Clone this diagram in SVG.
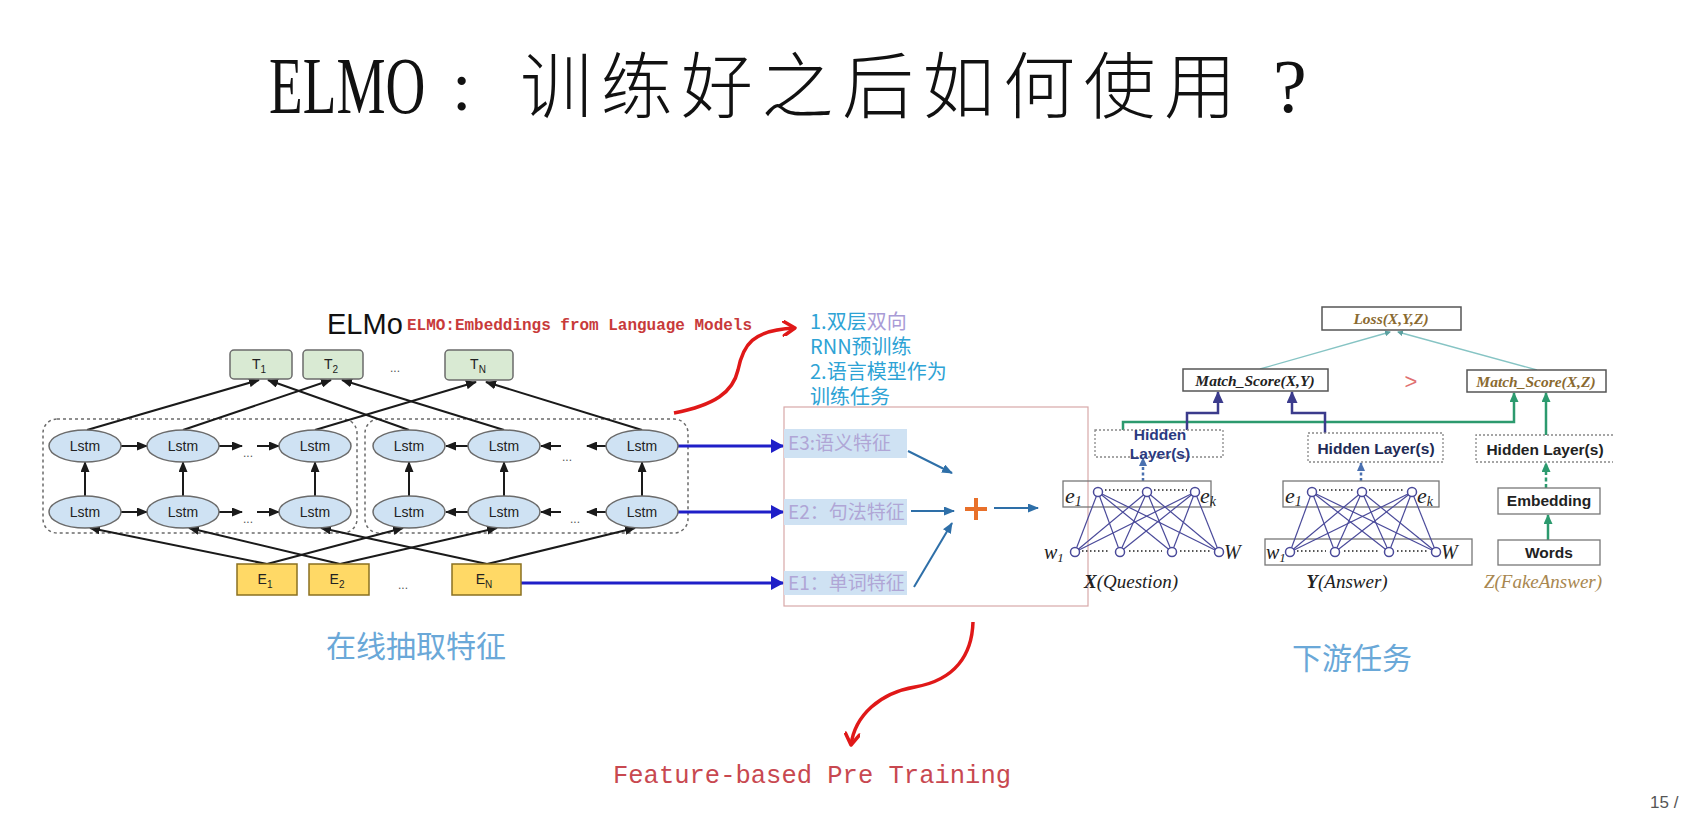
<svg xmlns="http://www.w3.org/2000/svg" width="1688" height="817" viewBox="0 0 1688 817">
<defs>
<style>
.sans{font-family:"Liberation Sans",Arial,sans-serif}
.cjk{font-family:"Noto Sans CJK SC","Noto Sans",sans-serif}
.ser{font-family:"Liberation Serif","Times New Roman",serif}
.mono{font-family:"Liberation Mono","Courier New",monospace}
.tbox{fill:#d9ead3;stroke:#6b6b6b;stroke-width:1.5}
.ebox{fill:#ffd966;stroke:#8a7020;stroke-width:1.5}
.lstm{fill:#cfe2f3;stroke:#6b6b6b;stroke-width:1.5}
.lbl{font-family:"Liberation Sans",Arial,sans-serif;font-size:14px;fill:#222;text-anchor:middle}
.blk{stroke:#1a1a1a;stroke-width:2;fill:none;marker-end:url(#ab)}
.dots{font-family:"Liberation Sans",Arial,sans-serif;font-size:12px;fill:#555;text-anchor:middle}
.grp{fill:none;stroke:#6b6b6b;stroke-width:1.5;stroke-dasharray:3 3}
.blue{stroke:#1f1fc8;stroke-width:3;fill:none;marker-end:url(#abl)}
.steel{stroke:#2e6fa8;stroke-width:2;fill:none;marker-end:url(#ast)}
.fbox{fill:#cfe2f3}
.ftxt{font-family:"Noto Sans CJK SC",sans-serif;font-size:19px;fill:#b0a6d6}
.note{font-family:"Noto Sans CJK SC","Noto Sans",sans-serif;font-size:20px;fill:#2ea3d5}
.rbox{fill:#fff;stroke:#555;stroke-width:1.5}
.ms{font-family:"Liberation Serif",serif;font-style:italic;font-weight:bold;font-size:15.5px;text-anchor:middle}
.hid{font-family:"Liberation Sans",Arial,sans-serif;font-weight:bold;font-size:15.5px;text-anchor:middle}
.dbox{fill:none;stroke:#888;stroke-width:1.3;stroke-dasharray:2 2}
.navy{stroke:#3b3b8c;stroke-width:2.5;fill:none;marker-end:url(#anv)}
.grn{stroke:#2c9a6e;stroke-width:2.5;fill:none;marker-end:url(#agr)}
.teal{stroke:#86c4c4;stroke-width:1.3;fill:none;marker-end:url(#atl)}
.bp{stroke:#4a4a9a;stroke-width:1.2}
.cir{fill:#fff;stroke:#4a4a9a;stroke-width:1.5}
.dotl{stroke:#555;stroke-width:1.8;stroke-dasharray:1.5 2.5}
.it{font-family:"Liberation Serif",serif;font-style:italic}
.cap{font-family:"Noto Sans CJK SC",sans-serif;font-size:30px;fill:#6aa8d8}
</style>
<marker id="ab" markerUnits="userSpaceOnUse" markerWidth="11" markerHeight="9" refX="10" refY="4.5" orient="auto"><path d="M0,0 L11,4.5 L0,9 z" fill="#1a1a1a"/></marker>
<marker id="abl" markerUnits="userSpaceOnUse" markerWidth="13" markerHeight="14" refX="12" refY="7" orient="auto"><path d="M0,0 L13,7 L0,14 z" fill="#1f1fc8"/></marker>
<marker id="ast" markerUnits="userSpaceOnUse" markerWidth="11" markerHeight="9" refX="10" refY="4.5" orient="auto"><path d="M0,0 L11,4.5 L0,9 z" fill="#2e6fa8"/></marker>
<marker id="anv" markerUnits="userSpaceOnUse" markerWidth="12" markerHeight="11" refX="11" refY="5.5" orient="auto"><path d="M0,0 L12,5.5 L0,11 z" fill="#3b3b8c"/></marker>
<marker id="agr" markerUnits="userSpaceOnUse" markerWidth="10" markerHeight="9" refX="9" refY="4.5" orient="auto"><path d="M0,0 L10,4.5 L0,9 z" fill="#2c9a6e"/></marker>
<marker id="atl" markerUnits="userSpaceOnUse" markerWidth="6" markerHeight="6" refX="5" refY="3" orient="auto"><path d="M0,0 L6,3 L0,6 z" fill="#5aa0a0"/></marker>
<marker id="ablu" markerUnits="userSpaceOnUse" markerWidth="9" markerHeight="8" refX="8" refY="4" orient="auto"><path d="M0,0 L9,4 L0,8 z" fill="#4a70b0"/></marker>
<marker id="ared" markerUnits="userSpaceOnUse" markerWidth="16" markerHeight="16" refX="13" refY="8" orient="auto"><path d="M2,1 L13,8 L2,15" fill="none" stroke="#e01818" stroke-width="3.5" stroke-linecap="round" stroke-linejoin="round"/></marker>
</defs>
<rect width="1688" height="817" fill="#ffffff"/>

<g id="title" fill="#111">
<text transform="translate(269,113) scale(0.69,1)" class="ser" font-size="80">ELMO</text>
<text x="452" y="110" class="ser" font-size="70">:</text>
<text x="520" y="112" class="cjk" font-size="72" font-weight="300" letter-spacing="8.5">训练好之后如何使用</text>
<text x="1273" y="112" class="ser" font-size="76">?</text>
</g>

<g id="elmo-label">
<text x="327" y="334" class="sans" font-size="29" fill="#111">ELMo</text>
<text x="407" y="330" class="mono" font-size="16" font-weight="bold" fill="#c83a3a" textLength="345">ELMO:Embeddings from Language Models</text>
</g>

<g id="groups">
<rect x="43" y="419" width="314" height="114" rx="14" class="grp"/>
<rect x="365" y="419" width="323" height="114" rx="14" class="grp"/>
</g>

<g id="connectors">
<line x1="87" y1="430" x2="259" y2="380" class="blk"/>
<line x1="409" y1="430" x2="268" y2="380" class="blk"/>
<line x1="183" y1="430" x2="331" y2="380" class="blk"/>
<line x1="504" y1="430" x2="342" y2="380" class="blk"/>
<line x1="315" y1="430" x2="476" y2="382" class="blk"/>
<line x1="642" y1="430" x2="486" y2="382" class="blk"/>
<line x1="267" y1="564" x2="90" y2="528" class="blk"/>
<line x1="267" y1="564" x2="403" y2="528" class="blk"/>
<line x1="340" y1="564" x2="189" y2="528" class="blk"/>
<line x1="340" y1="564" x2="497" y2="528" class="blk"/>
<line x1="487" y1="564" x2="321" y2="528" class="blk"/>
<line x1="487" y1="564" x2="635" y2="528" class="blk"/>
<line x1="85" y1="496" x2="85" y2="462" class="blk"/>
<line x1="183" y1="496" x2="183" y2="462" class="blk"/>
<line x1="315" y1="496" x2="315" y2="462" class="blk"/>
<line x1="409" y1="496" x2="409" y2="462" class="blk"/>
<line x1="504" y1="496" x2="504" y2="462" class="blk"/>
<line x1="642" y1="496" x2="642" y2="462" class="blk"/>
<line x1="121" y1="446" x2="147" y2="446" class="blk"/>
<line x1="219" y1="446" x2="242" y2="446" class="blk"/>
<line x1="257" y1="446" x2="279" y2="446" class="blk"/>
<line x1="468" y1="446" x2="446" y2="446" class="blk"/>
<line x1="561" y1="446" x2="541" y2="446" class="blk"/>
<line x1="606" y1="446" x2="587" y2="446" class="blk"/>
<line x1="121" y1="512" x2="147" y2="512" class="blk"/>
<line x1="219" y1="512" x2="242" y2="512" class="blk"/>
<line x1="257" y1="512" x2="279" y2="512" class="blk"/>
<line x1="468" y1="512" x2="446" y2="512" class="blk"/>
<line x1="561" y1="512" x2="541" y2="512" class="blk"/>
<line x1="606" y1="512" x2="587" y2="512" class="blk"/>
<line x1="678" y1="446" x2="783" y2="446" class="blue"/>
<line x1="678" y1="512" x2="783" y2="512" class="blue"/>
<line x1="521" y1="583" x2="783" y2="583" class="blue"/>
<line x1="908" y1="451" x2="952" y2="473" class="steel"/>
<line x1="911" y1="511" x2="954" y2="511" class="steel"/>
<line x1="914" y1="587" x2="952" y2="523" class="steel"/>
<line x1="994" y1="508" x2="1038" y2="508" class="steel"/>
<path d="M674,413 C715,405 733,392 738,370 C743,345 752,330 795,328" fill="none" stroke="#e01818" stroke-width="3.5" marker-end="url(#ared)"/>
<path d="M973,622 C972,655 955,680 915,687 C880,693 855,715 851,745" fill="none" stroke="#e01818" stroke-width="3.5" marker-end="url(#ared)"/>
<line x1="1260" y1="369" x2="1390" y2="332" class="teal"/>
<line x1="1537" y1="370" x2="1398" y2="332" class="teal"/>
<polyline points="1123,430 1123,422 1514,422 1514,393" class="grn"/>
<line x1="1546" y1="435" x2="1546" y2="393" class="grn"/>
<line x1="1548" y1="540" x2="1548" y2="515" class="grn"/>
<polyline points="1187,430 1187,413 1218,413 1218,392" class="navy"/>
<polyline points="1325,433 1325,413 1292,413 1292,392" class="navy"/>
<line x1="1143" y1="481" x2="1143" y2="458" stroke="#4a70b0" stroke-width="2.5" stroke-dasharray="3 2.5" marker-end="url(#ablu)"/>
<line x1="1361" y1="481" x2="1361" y2="463" stroke="#4a70b0" stroke-width="2.5" stroke-dasharray="3 2.5" marker-end="url(#ablu)"/>
<line x1="1546" y1="488" x2="1546" y2="463" stroke="#2c9a6e" stroke-width="2.5" stroke-dasharray="4 2.5" marker-end="url(#agr)"/>
</g>

<g id="T-nodes">
<g id="T1"><rect x="230" y="350" width="62" height="29" rx="4" class="tbox"/><text x="259" y="369" class="lbl">T<tspan font-size="10" dy="4">1</tspan></text></g>
<g id="T2"><rect x="303" y="350" width="60" height="29" rx="4" class="tbox"/><text x="331" y="369" class="lbl">T<tspan font-size="10" dy="4">2</tspan></text></g>
<text x="395" y="372" class="dots">...</text>
<g id="TN"><rect x="445" y="350" width="68" height="30" rx="4" class="tbox"/><text x="478" y="369" class="lbl">T<tspan font-size="10" dy="4">N</tspan></text></g>
</g>

<g id="lstm-nodes">
<g id="L11"><ellipse cx="85" cy="446" rx="36" ry="16" class="lstm"/><text x="85" y="451" class="lbl">Lstm</text></g>
<g id="L12"><ellipse cx="183" cy="446" rx="36" ry="16" class="lstm"/><text x="183" y="451" class="lbl">Lstm</text></g>
<g id="L13"><ellipse cx="315" cy="446" rx="36" ry="16" class="lstm"/><text x="315" y="451" class="lbl">Lstm</text></g>
<g id="L14"><ellipse cx="409" cy="446" rx="36" ry="16" class="lstm"/><text x="409" y="451" class="lbl">Lstm</text></g>
<g id="L15"><ellipse cx="504" cy="446" rx="36" ry="16" class="lstm"/><text x="504" y="451" class="lbl">Lstm</text></g>
<g id="L16"><ellipse cx="642" cy="446" rx="36" ry="16" class="lstm"/><text x="642" y="451" class="lbl">Lstm</text></g>
<g id="L21"><ellipse cx="85" cy="512" rx="36" ry="16" class="lstm"/><text x="85" y="517" class="lbl">Lstm</text></g>
<g id="L22"><ellipse cx="183" cy="512" rx="36" ry="16" class="lstm"/><text x="183" y="517" class="lbl">Lstm</text></g>
<g id="L23"><ellipse cx="315" cy="512" rx="36" ry="16" class="lstm"/><text x="315" y="517" class="lbl">Lstm</text></g>
<g id="L24"><ellipse cx="409" cy="512" rx="36" ry="16" class="lstm"/><text x="409" y="517" class="lbl">Lstm</text></g>
<g id="L25"><ellipse cx="504" cy="512" rx="36" ry="16" class="lstm"/><text x="504" y="517" class="lbl">Lstm</text></g>
<g id="L26"><ellipse cx="642" cy="512" rx="36" ry="16" class="lstm"/><text x="642" y="517" class="lbl">Lstm</text></g>
<text x="248" y="457" class="dots">...</text>
<text x="248" y="523" class="dots">...</text>
<text x="567" y="461" class="dots">...</text>
<text x="575" y="523" class="dots">...</text>
</g>

<g id="E-nodes">
<g id="E1"><rect x="237" y="564" width="60" height="31" class="ebox"/><text x="265" y="584" class="lbl">E<tspan font-size="10" dy="4">1</tspan></text></g>
<g id="E2"><rect x="309" y="564" width="60" height="31" class="ebox"/><text x="337" y="584" class="lbl">E<tspan font-size="10" dy="4">2</tspan></text></g>
<text x="403" y="589" class="dots">...</text>
<g id="EN"><rect x="452" y="564" width="69" height="31" class="ebox"/><text x="484" y="584" class="lbl">E<tspan font-size="10" dy="4">N</tspan></text></g>
</g>

<g id="notes">
<text x="810" y="329" class="note">1.双层<tspan fill="#a99bd6">双向</tspan></text>
<text x="810" y="354" class="note">RNN预训练</text>
<text x="810" y="379" class="note">2.语言模型作为</text>
<text x="810" y="404" class="note">训练任务</text>
</g>

<g id="feature-box">
<rect x="784" y="407" width="304" height="199" fill="none" stroke="#d8a8a8" stroke-width="1.2"/>
<g id="F3"><rect x="784" y="429" width="123" height="29" class="fbox"/><text x="788" y="450" class="ftxt">E3:语义特征</text></g>
<g id="F2"><rect x="784" y="499" width="123" height="26" class="fbox"/><text x="788" y="519" class="ftxt">E2：句法特征</text></g>
<g id="F1"><rect x="784" y="571" width="123" height="24" class="fbox"/><text x="788" y="590" class="ftxt">E1：单词特征</text></g>
<g id="plus"><path d="M965,509 H987 M976,498 V520" stroke="#e8702a" stroke-width="4"/></g>
</g>

<g id="downstream">
<g id="loss"><rect x="1322" y="307" width="139" height="23" class="rbox"/><text x="1391" y="324" class="ms" font-size="14" fill="#8a6a30">Loss(X,Y,Z)</text></g>
<g id="match-xy"><rect x="1183" y="369" width="145" height="22" class="rbox"/><text x="1255" y="386" class="ms" fill="#222">Match_Score(X,Y)</text></g>
<text x="1411" y="389" class="sans" font-size="22" fill="#e07070" text-anchor="middle">&gt;</text>
<g id="match-xz"><rect x="1467" y="370" width="139" height="22" class="rbox"/><text x="1536" y="387" class="ms" fill="#8a6a30">Match_Score(X,Z)</text></g>

<g id="hidden-x"><rect x="1095" y="430" width="128" height="27" class="dbox"/><text x="1160" y="440" class="hid" fill="#2b3a80">Hidden</text><text x="1160" y="459" class="hid" fill="#2b3a80">Layer(s)</text></g>
<g id="hidden-y"><rect x="1308" y="433" width="135" height="29" class="dbox"/><text x="1376" y="454" class="hid" fill="#222a55">Hidden Layer(s)</text></g>
<g id="hidden-z"><path d="M1613,435 H1476 V462 H1613" class="dbox"/><text x="1545" y="455" class="hid" fill="#222">Hidden Layer(s)</text></g>

<g id="net-x">
<rect x="1063" y="481" width="148" height="26" fill="none" stroke="#777" stroke-width="1.3"/>
<g class="bp">
<line x1="1075" y1="552" x2="1098" y2="492"/><line x1="1075" y1="552" x2="1147" y2="492"/><line x1="1075" y1="552" x2="1195" y2="492"/>
<line x1="1120" y1="552" x2="1098" y2="492"/><line x1="1120" y1="552" x2="1147" y2="492"/><line x1="1120" y1="552" x2="1195" y2="492"/>
<line x1="1172" y1="552" x2="1098" y2="492"/><line x1="1172" y1="552" x2="1147" y2="492"/><line x1="1172" y1="552" x2="1195" y2="492"/>
<line x1="1219" y1="552" x2="1098" y2="492"/><line x1="1219" y1="552" x2="1147" y2="492"/><line x1="1219" y1="552" x2="1195" y2="492"/>
</g>
<line x1="1105" y1="490" x2="1139" y2="490" class="dotl"/><line x1="1154" y1="490" x2="1187" y2="490" class="dotl"/>
<line x1="1082" y1="551" x2="1110" y2="551" class="dotl"/><line x1="1129" y1="551" x2="1162" y2="551" class="dotl"/><line x1="1180" y1="551" x2="1210" y2="551" class="dotl"/>
<circle cx="1098" cy="492" r="4.5" class="cir"/><circle cx="1147" cy="492" r="4.5" class="cir"/><circle cx="1195" cy="492" r="4.5" class="cir"/>
<circle cx="1075" cy="552" r="4.5" class="cir"/><circle cx="1120" cy="552" r="4.5" class="cir"/><circle cx="1172" cy="552" r="4.5" class="cir"/><circle cx="1219" cy="552" r="4.5" class="cir"/>
<text x="1065" y="503" class="it" font-size="22" fill="#222">e<tspan font-size="14" dy="3">1</tspan></text>
<text x="1200" y="503" class="it" font-size="22" fill="#222">e<tspan font-size="14" dy="3">k</tspan></text>
<text x="1044" y="559" class="it" font-size="20" fill="#222">w<tspan font-size="13" dy="3">1</tspan></text>
<text x="1224" y="559" class="it" font-size="20" fill="#222">W</text>
<text x="1131" y="588" class="it" font-size="19" fill="#222" text-anchor="middle"><tspan font-weight="bold">X</tspan>(Question)</text>
</g>

<g id="net-y">
<rect x="1283" y="481" width="156" height="26" fill="none" stroke="#777" stroke-width="1.3"/>
<rect x="1265" y="539" width="207" height="26" fill="none" stroke="#777" stroke-width="1.3"/>
<g class="bp">
<line x1="1290" y1="552" x2="1312" y2="492"/><line x1="1290" y1="552" x2="1362" y2="492"/><line x1="1290" y1="552" x2="1412" y2="492"/>
<line x1="1335" y1="552" x2="1312" y2="492"/><line x1="1335" y1="552" x2="1362" y2="492"/><line x1="1335" y1="552" x2="1412" y2="492"/>
<line x1="1389" y1="552" x2="1312" y2="492"/><line x1="1389" y1="552" x2="1362" y2="492"/><line x1="1389" y1="552" x2="1412" y2="492"/>
<line x1="1436" y1="552" x2="1312" y2="492"/><line x1="1436" y1="552" x2="1362" y2="492"/><line x1="1436" y1="552" x2="1412" y2="492"/>
</g>
<line x1="1319" y1="490" x2="1354" y2="490" class="dotl"/><line x1="1369" y1="490" x2="1404" y2="490" class="dotl"/>
<line x1="1297" y1="551" x2="1326" y2="551" class="dotl"/><line x1="1344" y1="551" x2="1380" y2="551" class="dotl"/><line x1="1397" y1="551" x2="1428" y2="551" class="dotl"/>
<circle cx="1312" cy="492" r="4.5" class="cir"/><circle cx="1362" cy="492" r="4.5" class="cir"/><circle cx="1412" cy="492" r="4.5" class="cir"/>
<circle cx="1290" cy="552" r="4.5" class="cir"/><circle cx="1335" cy="552" r="4.5" class="cir"/><circle cx="1389" cy="552" r="4.5" class="cir"/><circle cx="1436" cy="552" r="4.5" class="cir"/>
<text x="1285" y="503" class="it" font-size="22" fill="#222">e<tspan font-size="14" dy="3">1</tspan></text>
<text x="1417" y="503" class="it" font-size="22" fill="#222">e<tspan font-size="14" dy="3">k</tspan></text>
<text x="1266" y="559" class="it" font-size="20" fill="#222">w<tspan font-size="13" dy="3">1</tspan></text>
<text x="1441" y="559" class="it" font-size="20" fill="#222">W</text>
<text x="1347" y="588" class="it" font-size="19" fill="#222" text-anchor="middle"><tspan font-weight="bold">Y</tspan>(Answer)</text>
</g>

<g id="net-z">
<g id="embedding"><rect x="1498" y="488" width="102" height="26" fill="#fff" stroke="#777" stroke-width="1.3"/><text x="1549" y="506" class="hid" font-size="15" fill="#222">Embedding</text></g>
<g id="words"><rect x="1498" y="540" width="102" height="25" fill="#fff" stroke="#777" stroke-width="1.3"/><text x="1549" y="558" class="hid" font-size="15" fill="#222">Words</text></g>
<text x="1543" y="588" class="it" font-size="19" fill="#a8874f" text-anchor="middle">Z(FakeAnswer)</text>
</g>
</g>

<g id="captions">
<text x="326" y="657" class="cap">在线抽取特征</text>
<text x="1292" y="669" class="cap">下游任务</text>
<text x="613" y="783" class="mono" font-size="25.5" fill="#c84850" textLength="398">Feature-based Pre Training</text>
<text x="1650" y="808" class="sans" font-size="17" fill="#555">15 /</text>
</g>
</svg>
